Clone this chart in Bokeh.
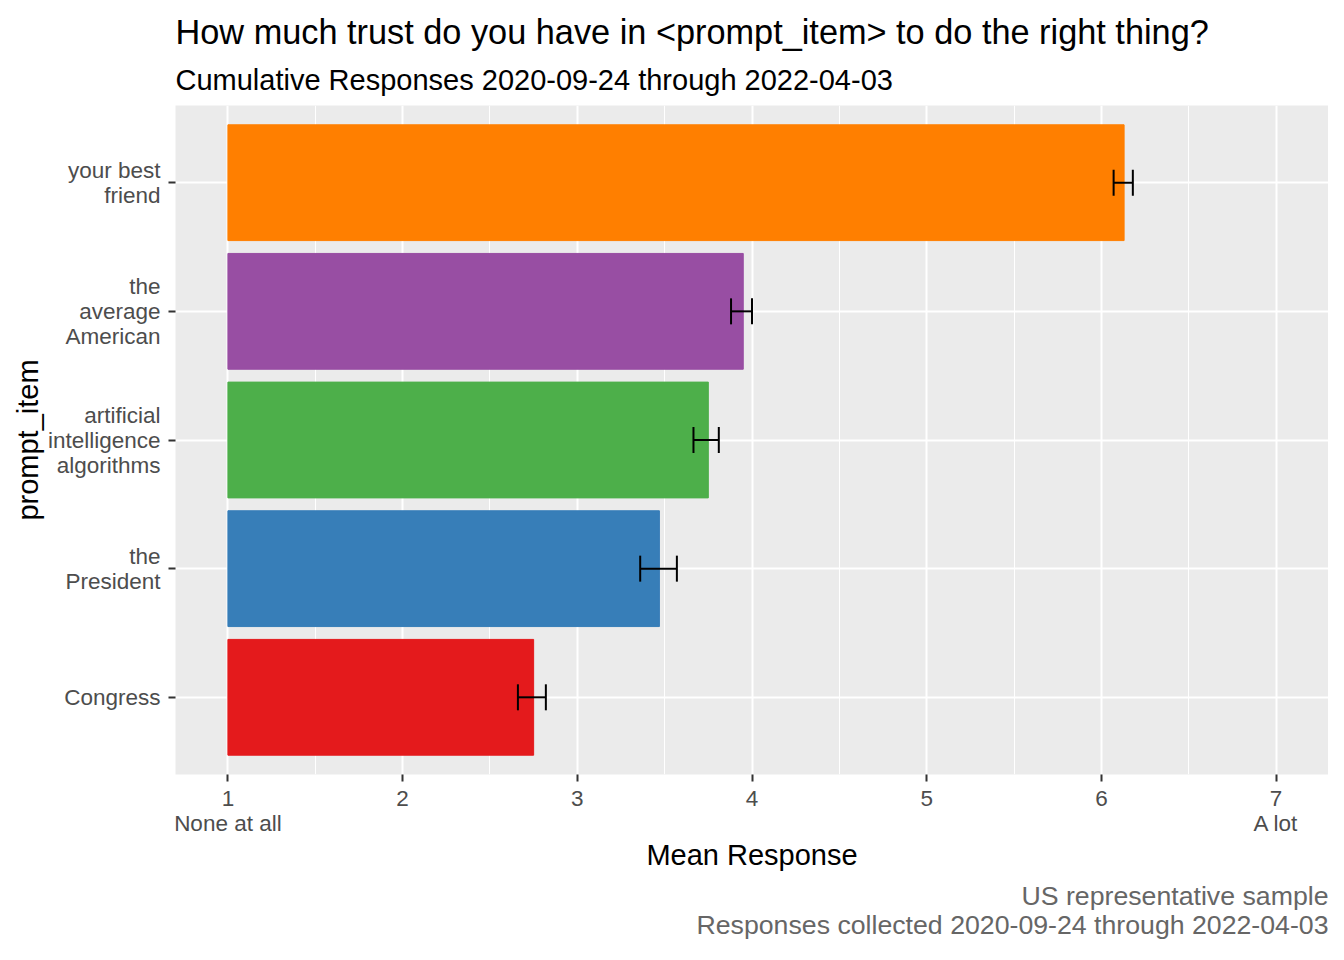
from bokeh.plotting import figure
from bokeh.models import FactorRange, Range1d, Title, FixedTicker, Whisker, TeeHead, ColumnDataSource
from bokeh.embed import file_html
from bokeh.resources import INLINE

# ---- data ----
items = ["Congress", "the\nPresident", "artificial\nintelligence\nalgorithms",
         "the\naverage\nAmerican", "your best\nfriend"]
means = [2.75, 3.47, 3.75, 3.95, 6.13]
lower = [2.66, 3.36, 3.665, 3.88, 6.07]
upper = [2.82, 3.57, 3.81, 4.00, 6.18]
colors = ["#E41A1C", "#377EB8", "#4DAF4A", "#984EA3", "#FF7F00"]
scale_min = 1
scale_max = 7
x_ticks = [1, 2, 3, 4, 5, 6, 7]
x_minor = [1.5, 2.5, 3.5, 4.5, 5.5, 6.5]
x_tick_labels = {1: "1\nNone at all", 7: "7\nA lot"}

title_text = "How much trust do you have in <prompt_item> to do the right thing?"
subtitle_text = "Cumulative Responses 2020-09-24 through 2022-04-03"
caption_lines = ["US representative sample",
                 "Responses collected 2020-09-24 through 2022-04-03"]

FONT = "Liberation Sans"

src = ColumnDataSource(dict(item=items, mean=means, lo=lower, hi=upper,
                            color=colors, base=[scale_min] * len(items)))

p = figure(width=1328, height=944, output_backend="svg", toolbar_location=None,
           y_range=FactorRange(*items, range_padding=0.1, range_padding_units="absolute"),
           x_range=Range1d(0.7, 7.3),
           min_border_left=175, min_border_right=0, min_border_top=0, min_border_bottom=0)

p.background_fill_color = "#EBEBEB"
p.border_fill_color = "white"
p.outline_line_color = None

p.hbar(y="item", left="base", right="mean", height=0.9, color="color", source=src)

head_lo = TeeHead(size=26, line_color="black", line_width=2)
head_hi = TeeHead(size=26, line_color="black", line_width=2)
p.add_layout(Whisker(source=src, base="item", lower="lo", upper="hi", dimension="width",
                     line_color="black", line_width=2, lower_head=head_lo, upper_head=head_hi,
                     level="overlay"))

# axes
p.xaxis.ticker = FixedTicker(ticks=x_ticks, minor_ticks=x_minor)
p.xaxis.major_label_overrides = x_tick_labels
for ax in (p.xaxis[0], p.yaxis[0]):
    ax.axis_line_color = None
    ax.major_tick_line_color = "#333333"
    ax.major_tick_line_width = 2
    ax.major_tick_in = 0
    ax.major_tick_out = 7
    ax.minor_tick_line_color = None
    ax.major_label_text_font = FONT
    ax.major_label_text_font_size = "22.5px"
    ax.major_label_text_color = "#4D4D4D"
    ax.major_label_text_line_height = 1.0
    ax.axis_label_text_font = FONT
    ax.axis_label_text_font_size = "29px"
    ax.axis_label_text_font_style = "normal"
    ax.axis_label_text_color = "black"
p.xaxis.major_label_standoff = 4
p.yaxis.major_label_standoff = 8
p.xaxis.axis_label = "Mean Response"
p.yaxis.axis_label = "prompt_item"
p.xaxis.axis_label_standoff = 0
p.yaxis.axis_label_standoff = 1

# grid
p.xgrid.grid_line_color = "white"
p.xgrid.grid_line_width = 2
p.xgrid.minor_grid_line_color = "white"
p.xgrid.minor_grid_line_width = 1
p.ygrid.grid_line_color = "white"
p.ygrid.grid_line_width = 2

# titles (stacked outward from the plot area)
p.add_layout(Title(text=subtitle_text, text_font=FONT, text_font_size="29px",
                   text_font_style="normal", text_color="black", align="left",
                   standoff=19), "above")
p.add_layout(Title(text=title_text, text_font=FONT, text_font_size="34.3px",
                   text_font_style="normal", text_color="black", align="left",
                   standoff=3), "above")
# top spacer
p.add_layout(Title(text=" ", text_font=FONT, text_font_size="7px", standoff=0), "above")

p.add_layout(Title(text="\n".join(caption_lines), text_font=FONT, text_font_size="26.7px",
                   text_font_style="normal", text_color="#666666", align="right",
                   text_align="right", text_line_height=0.95, standoff=10), "below")

open("out.html", "w").write(file_html(p, INLINE))
